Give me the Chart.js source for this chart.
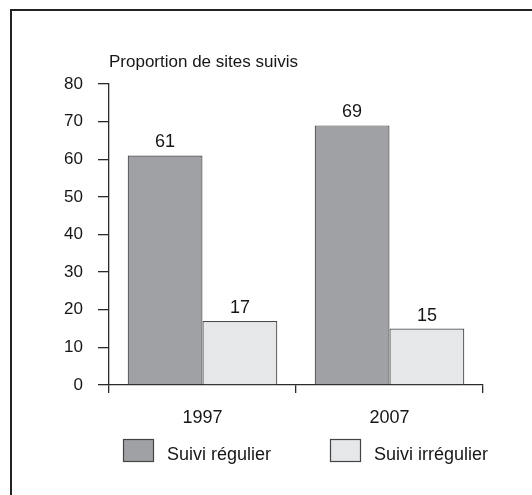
<!DOCTYPE html>
<html>
<head>
<meta charset="utf-8">
<script src="https://cdn.jsdelivr.net/npm/chart.js@4"></script>
<style>
  body { margin: 0; background: #fff; }
  #wrap { position: relative; width: 532px; height: 495px; }
  #frame { position: absolute; left: 10px; top: 9px; right: 0; bottom: 0;
           border-top: 2px solid #222; border-left: 2px solid #222; }
  canvas { position: absolute; left: 0; top: 0; }
</style>
</head>
<body>
<div id="wrap">
  <div id="frame"></div>
  <canvas id="chart" width="532" height="495"></canvas>
</div>
<script>
const years = ['1997', '2007'];
const regular = [61, 69];
const irregular = [17, 15];
const seriesNames = ['Suivi régulier', 'Suivi irrégulier'];
const yTicks = [0, 10, 20, 30, 40, 50, 60, 70, 80];

const FONT = "'Liberation Sans Narrow', 'Arial Narrow', sans-serif";
const INK = '#161616';
const AXIS = '#2a2a2a';

// values above the bars + legend under the axis
const extras = {
    id: 'extras',
    afterDatasetsDraw(chart) {
        const ctx = chart.ctx;
        ctx.save();
        ctx.fillStyle = INK;
        ctx.font = '18px ' + FONT;
        ctx.textAlign = 'center';
        ctx.textBaseline = 'alphabetic';
        chart.data.datasets.forEach((ds, i) => {
            chart.getDatasetMeta(i).data.forEach((bar, j) => {
                ctx.fillText(ds.data[j], bar.x, bar.y - 8);
            });
        });

        // legend
        const lx = [123, 330];
        chart.data.datasets.forEach((ds, i) => {
            ctx.fillStyle = ds.backgroundColor;
            ctx.fillRect(lx[i], 439, 30, 23);
            ctx.strokeStyle = '#444';
            ctx.lineWidth = 1.2;
            ctx.strokeRect(lx[i] + 0.5, 439.5, 30, 22);
            ctx.fillStyle = INK;
            ctx.textAlign = 'left';
            ctx.fillText(ds.label, lx[i] + 44, 460);
        });
        ctx.restore();
    }
};

const ctx = document.getElementById('chart').getContext('2d');
const chart = new Chart(ctx, {
    type: 'bar',
    data: {
        labels: years,
        datasets: [{
            label: seriesNames[0],
            data: regular,
            backgroundColor: '#a0a1a4',
            borderColor: '#4a4a4a',
            borderWidth: 1.2
        }, {
            label: seriesNames[1],
            data: irregular,
            backgroundColor: '#e6e7e8',
            borderColor: '#4a4a4a',
            borderWidth: 1.2
        }]
    },
    options: {
        responsive: false,
        animation: false,
        categoryPercentage: 0.8,
        barPercentage: 1.0,
        layout: { padding: { left: 0, right: 49, top: 0, bottom: 0 } },
        plugins: {
            legend: { display: false },
            tooltip: { enabled: false },
            title: {
                display: true,
                text: 'Proportion de sites suivis',
                align: 'start',
                fullSize: false,
                color: INK,
                font: { family: FONT, size: 17, weight: 'normal', lineHeight: 1.2 },
                padding: { top: 52, bottom: 11.6 }
            }
        },
        scales: {
            x: {
                grid: { offset: true, drawOnChartArea: false, tickLength: 8, color: AXIS, lineWidth: 1.3 },
                border: { color: AXIS, width: 1.3 },
                ticks: { color: INK, padding: 14, font: { family: FONT, size: 18 } },
                afterFit(scale) { scale.height = 110; }
            },
            y: {
                min: 0,
                max: 80,
                afterBuildTicks(scale) { scale.ticks = yTicks.map(v => ({ value: v })); },
                grid: { drawOnChartArea: false, tickLength: 11, color: AXIS, lineWidth: 1.3 },
                border: { color: AXIS, width: 1.3 },
                ticks: { color: INK, padding: 15, font: { family: FONT, size: 17 } },
                afterFit(scale) { scale.width = 109; }
            }
        }
    },
    plugins: [extras]
});
</script>
</body>
</html>
